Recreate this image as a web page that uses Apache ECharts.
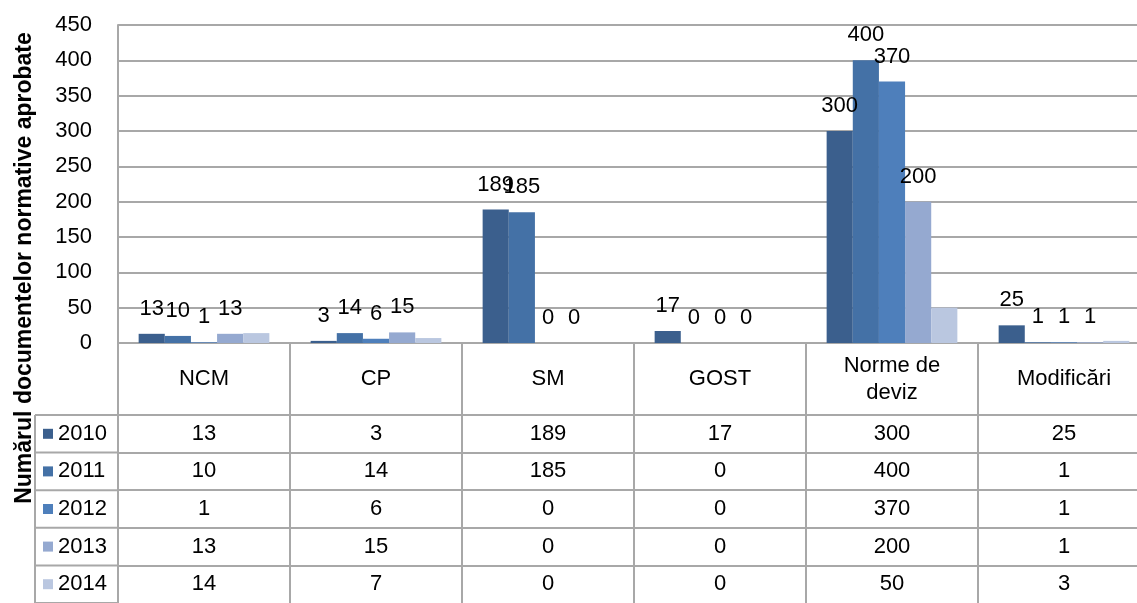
<!DOCTYPE html>
<html>
<head>
<meta charset="utf-8">
<title>Documente normative aprobate</title>
<script src="https://cdn.jsdelivr.net/npm/echarts@6/dist/echarts.min.js"></script>
<style>html,body{margin:0;padding:0;background:#fff}</style>
</head>
<body>
<div id="main" style="width:1137px;height:603px"></div>
<script>
// categorii si valori (tabelul de sub grafic)
var categories = ['NCM', 'CP', 'SM', 'GOST', 'Norme de\ndeviz', 'Modificări'];
var years = ['2010', '2011', '2012', '2013', '2014'];
var v2010 = [13, 3, 189, 17, 300, 25];
var v2011 = [10, 14, 185, 0, 400, 1];
var v2012 = [1, 6, 0, 0, 370, 1];
var v2013 = [13, 15, 0, 0, 200, 1];
var v2014 = [14, 7, 0, 0, 50, 3];
var yMin = 0, yMax = 450, yStep = 50;
var yTitle = 'Numărul documentelor normative aprobate';

var rows = [v2010, v2011, v2012, v2013, v2014];
var colors = ['#3b5f8d', '#4471a6', '#4e7fbb', '#95a9d0', '#bac7e0'];
var grey = '#a8a8a8';
var font = 'Liberation Sans';
var fs = 22;
var headerH = 72;   // inaltimea randului cu categorii
var rowH = 37.6;    // inaltimea unui rand din tabel
var plotBottom = 343;

var xAxes = [{
    type: 'category',
    data: categories,
    position: 'bottom',
    axisLine: { lineStyle: { color: grey, width: 2 } },
    axisTick: { show: true, interval: 0, length: headerH, lineStyle: { color: grey, width: 2 } },
    axisLabel: { interval: 0, margin: headerH / 2, verticalAlign: 'middle', fontSize: fs, lineHeight: 27, color: '#000' }
}];
rows.forEach(function (r, i) {
    xAxes.push({
        type: 'category',
        data: categories,
        position: 'bottom',
        offset: headerH + i * rowH,
        axisLine: { lineStyle: { color: grey, width: 2 } },
        axisTick: { show: true, interval: 0, length: rowH, lineStyle: { color: grey, width: 2 } },
        axisLabel: {
            interval: 0, margin: rowH / 2, verticalAlign: 'middle', fontSize: fs, color: '#000',
            formatter: function (v, idx) { return String(r[idx]); }
        }
    });
});

var series = rows.map(function (r, i) {
    return {
        name: years[i],
        type: 'bar',
        xAxisIndex: 0,
        data: r,
        barGap: 0,
        barCategoryGap: '24%',
        itemStyle: { color: colors[i] },
        label: { show: i < 4, position: 'top', distance: 14, fontSize: fs, color: '#000' }
    };
});

// chenarul coloanei cu legenda
var graphics = [];
var legTop = plotBottom + headerH;
for (var k = 0; k <= 5; k++) {
    graphics.push({ type: 'line', shape: { x1: 35, y1: legTop + k * rowH, x2: 118, y2: legTop + k * rowH },
        style: { stroke: grey, lineWidth: 2 } });
}
graphics.push({ type: 'line', shape: { x1: 35, y1: legTop, x2: 35, y2: 603 }, style: { stroke: grey, lineWidth: 2 } });
graphics.push({ type: 'text', x: 25, y: 268, rotation: Math.PI / 2,
    style: { text: yTitle, font: 'bold 23px ' + font, align: 'center', verticalAlign: 'middle', fill: '#000' } });

var myChart = echarts.init(document.getElementById('main'));
myChart.setOption({
    animation: false,
    backgroundColor: '#fff',
    textStyle: { fontFamily: font },
    color: colors,
    grid: { left: 118, width: 1032, top: 25, height: plotBottom - 25, containLabel: false, outerBoundsMode: 'none' },
    legend: {
        data: years, orient: 'vertical', left: 43, top: legTop + rowH / 2 - 12, padding: 0,
        icon: 'rect', itemWidth: 10, itemHeight: 10, itemGap: rowH - 24, selectedMode: false,
        textStyle: { fontSize: fs, lineHeight: 24, color: '#000' }
    },
    xAxis: xAxes,
    yAxis: {
        type: 'value', min: yMin, max: yMax, interval: yStep,
        axisLine: { show: true, lineStyle: { color: grey, width: 2 } },
        axisTick: { show: false },
        axisLabel: { fontSize: fs, color: '#000', margin: 26 },
        splitLine: { lineStyle: { color: grey, width: 2 } }
    },
    graphic: graphics,
    series: series
});
</script>
</body>
</html>
